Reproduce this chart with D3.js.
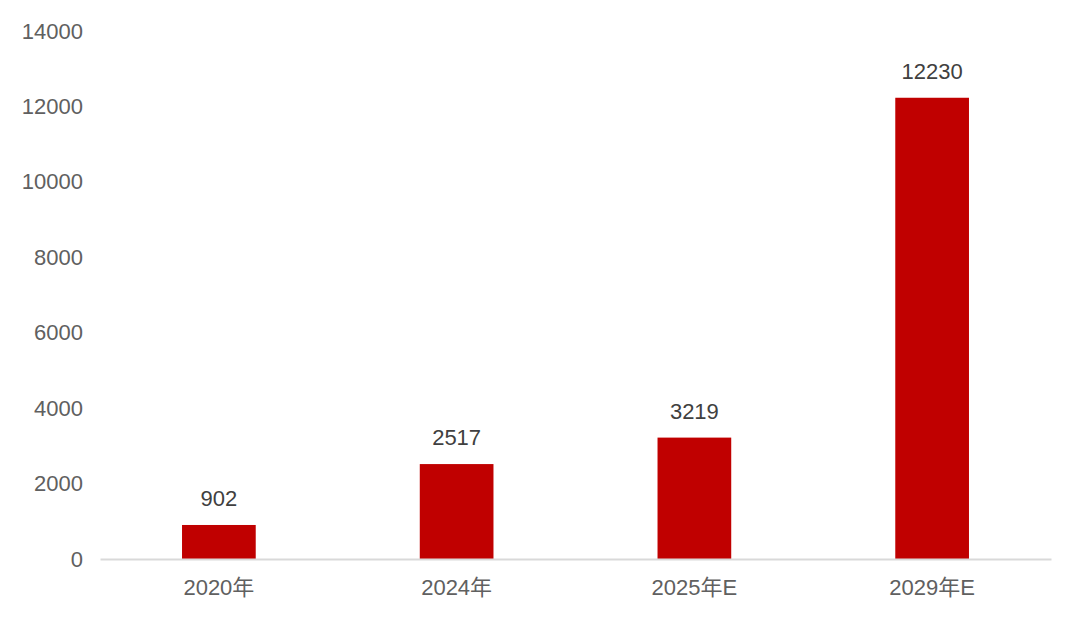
<!DOCTYPE html>
<html>
<head>
<meta charset="utf-8">
<script src="https://cdn.jsdelivr.net/npm/d3@7"></script>
<style>
html,body{margin:0;padding:0;background:#fff;}
svg{display:block;}
text{font-family:"Liberation Sans","Noto Sans CJK SC",Arial,sans-serif;}
</style>
</head>
<body>
<svg id="chart" width="1080" height="622"></svg>
<script>
const categories = ["2020年", "2024年", "2025年E", "2029年E"];
const values = [902, 2517, 3219, 12230];
const yTicks = [0, 2000, 4000, 6000, 8000, 10000, 12000, 14000];

const svg = d3.select("#chart");
const margin = {left: 100, right: 29, top: 31, bottom: 63};
const W = 1080, H = 622;

const x = d3.scaleBand().domain(categories).range([margin.left, W - margin.right]).paddingInner(0.69).paddingOuter(0.345);
const y = d3.scaleLinear().domain([0, 14000]).range([H - margin.bottom, margin.top]);

// y axis labels
const yAxis = d3.axisLeft(y).tickValues(yTicks).tickSize(0).tickPadding(17).tickFormat(d3.format("d"));
const gy = svg.append("g").attr("transform", `translate(${margin.left},0)`).call(yAxis);
gy.select(".domain").remove();
gy.selectAll("text").attr("fill", "#606060").style("font-size", "22px");

// bars
svg.selectAll("rect.bar").data(values).join("rect")
  .attr("class", "bar")
  .attr("x", (d, i) => x(categories[i]))
  .attr("width", x.bandwidth())
  .attr("y", d => y(d))
  .attr("height", d => y(0) - y(d))
  .attr("fill", "#C00000");

// x axis
const xAxis = d3.axisBottom(x).tickSize(0).tickPadding(20);
const gx = svg.append("g").attr("transform", `translate(0,${y(0)})`).call(xAxis);
gx.select(".domain").attr("stroke", "#d9d9d9").attr("stroke-width", 2);
gx.selectAll("text").attr("fill", "#606060").style("font-size", "22px");

// data labels
svg.selectAll("text.lbl").data(values).join("text")
  .attr("class", "lbl")
  .attr("x", (d, i) => x(categories[i]) + x.bandwidth() / 2)
  .attr("y", d => y(d) - 19)
  .attr("text-anchor", "middle")
  .attr("fill", "#404040")
  .style("font-size", "22px")
  .text(d => d);
</script>
</body>
</html>
